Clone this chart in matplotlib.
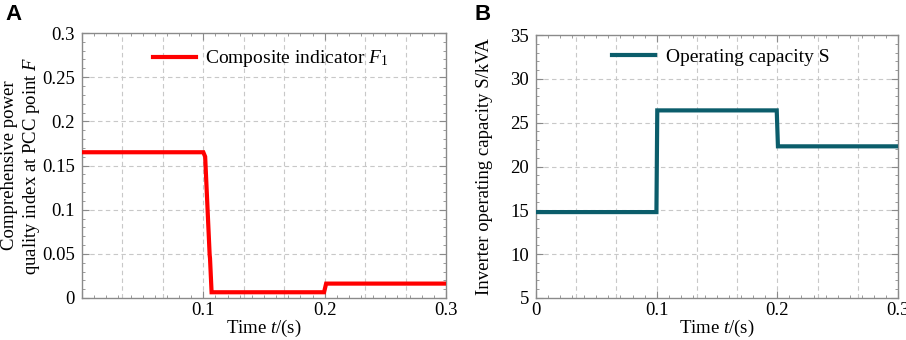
import numpy as np
import matplotlib
matplotlib.use("Agg")
import matplotlib.pyplot as plt
from matplotlib.ticker import MultipleLocator

plt.rcParams['font.family'] = ['Liberation Serif', 'DejaVu Serif']
plt.rcParams['mathtext.fontset'] = 'custom'
plt.rcParams['mathtext.rm'] = 'Liberation Serif'
plt.rcParams['mathtext.it'] = 'Liberation Serif:italic'
plt.rcParams['mathtext.bf'] = 'Liberation Serif:bold'

# ---- data ----
t_F = [0.0, 0.1, 0.1015, 0.1035, 0.1052, 0.1055, 0.1068, 0.1995, 0.2012, 0.3]
F_vals = [0.165, 0.165, 0.160, 0.100, 0.049, 0.045, 0.0065, 0.0065, 0.0163, 0.0163]

t_S = [0.0, 0.0998, 0.1005, 0.1995, 0.2005, 0.3]
S_vals = [14.8, 14.8, 26.4, 26.4, 22.3, 22.3]

xticks = [0.0, 0.1, 0.2, 0.3]
xlabels_A = ["", "0.1", "0.2", "0.3"]
xlabels_B = ["0", "0.1", "0.2", "0.3"]
yticks_A = [0, 0.05, 0.1, 0.15, 0.2, 0.25, 0.3]
ylabels_A = ["0", "0.05", "0.1", "0.15", "0.2", "0.25", "0.3"]
yticks_B = [5, 10, 15, 20, 25, 30, 35]
ylabels_B = ["5", "10", "15", "20", "25", "30", "35"]

FS = 13.5
LFS = 13.5
frame_col = '#8a8a8a'
grid_col = '#c8c8c8'

fig = plt.figure(figsize=(9.06, 3.40), dpi=100)
axA = fig.add_axes([82/906, 42/340, 364/906, 265/340])
axB = fig.add_axes([536/906, 42/340, 362/906, 263/340])


def style(ax, xlim, ylim, xminor, yminor, ygrid):
    ax.set_xlim(*xlim)
    ax.set_ylim(*ylim)
    for s in ax.spines.values():
        s.set_color(frame_col)
        s.set_linewidth(1.0)
    ax.xaxis.set_minor_locator(MultipleLocator(xminor))
    ax.yaxis.set_minor_locator(MultipleLocator(yminor))
    ax.tick_params(which='both', direction='in', top=True, right=True,
                   color=frame_col, labelsize=FS, labelcolor='black')
    ax.tick_params(which='major', length=5, width=0.8)
    ax.tick_params(which='minor', length=2.5, width=0.6)
    ax.tick_params(axis='x', pad=3)
    ax.tick_params(axis='y', pad=5)
    # grid: vertical lines every 1/30, horizontal at major y ticks
    for gx in np.arange(1, 9) * (xlim[1] - xlim[0]) / 9 + xlim[0]:
        ax.axvline(gx, color=grid_col, ls=(0, (4, 3)), lw=0.8, zorder=0)
    for gy in ygrid:
        ax.axhline(gy, color=grid_col, ls=(0, (4, 3)), lw=0.8, zorder=0)


# Panel A
style(axA, (0, 0.3), (0, 0.3), 0.01, 0.01, yticks_A[1:-1])
axA.plot(t_F, F_vals, color='#ff0000', lw=3.0, label=r'Composite indicator $F_{\mathrm{1}}$',
         solid_joinstyle='miter', zorder=3)
axA.set_xticks(xticks)
axA.set_xticklabels(xlabels_A)
axA.set_yticks(yticks_A)
axA.set_yticklabels(ylabels_A)
axA.set_xlabel(r'Time $t$/(s)', fontsize=LFS)
axA.xaxis.set_label_coords(0.5, -0.075)
axA.set_ylabel('Comprehensive power\nquality index at PCC point $F$', fontsize=LFS,
               linespacing=1.2)
axA.yaxis.set_label_coords(-0.11, 0.5)
axA.legend(loc='center left', bbox_to_anchor=(0.195, 0.902), frameon=False,
           fontsize=14, handlelength=2.2, handletextpad=0.45, borderpad=0,
           borderaxespad=0)

# Panel B
style(axB, (0, 0.3), (5, 35), 0.01, 1, yticks_B[1:-1])
axB.plot(t_S, S_vals, color='#0b5d6b', lw=3.0, label='Operating capacity S',
         solid_joinstyle='miter', zorder=3)
axB.set_xticks(xticks)
axB.set_xticklabels(xlabels_B)
axB.set_yticks(yticks_B)
axB.set_yticklabels(ylabels_B)
axB.set_xlabel(r'Time $t$/(s)', fontsize=LFS)
axB.xaxis.set_label_coords(0.5, -0.075)
axB.set_ylabel('Inverter operating capacity S/kVA', fontsize=LFS)
axB.yaxis.set_label_coords(-0.119, 0.5)
axB.legend(loc='center left', bbox_to_anchor=(0.21, 0.916), frameon=False,
           fontsize=14, handlelength=2.2, handletextpad=0.6, borderpad=0,
           borderaxespad=0)

fig.text(5/906, 1 - 4/340, 'A', fontsize=16, fontweight='bold',
         family='Liberation Sans', va='top', ha='left')
fig.text(475/906, 1 - 4/340, 'B', fontsize=16, fontweight='bold',
         family='Liberation Sans', va='top', ha='left')

fig.savefig('out.png', dpi=100)
